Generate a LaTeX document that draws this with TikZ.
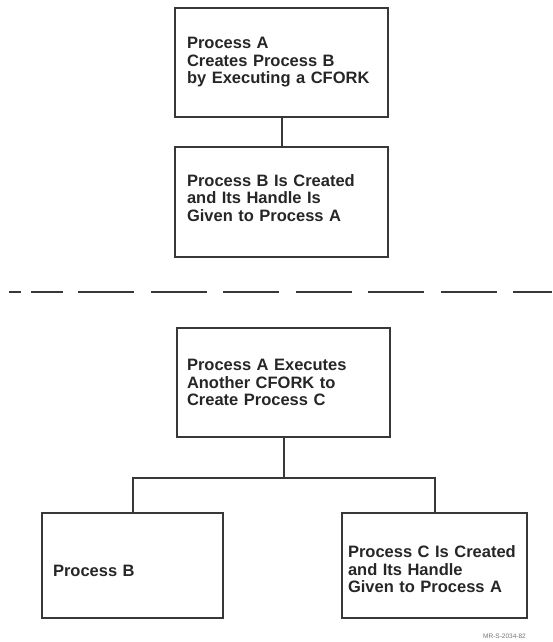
\documentclass[tikz,border=0pt]{standalone}
\usepackage{fontspec}
\setmainfont{Liberation Sans}
\begin{document}
\begin{tikzpicture}[x=1pt,y=-1pt,
  ink/.style={draw=black!78, line width=2pt},
  stepbox/.style={ink, rectangle, align=left, anchor=center,
    font=\bfseries\fontsize{16.5}{17.5}\selectfont, text=black!85,
    inner ysep=0pt},
  wire/.style={ink}
]
\useasboundingbox (0,0) rectangle (552,642);

% upper half: the first CFORK
\node[stepbox, minimum width=213pt, minimum height=109pt, text width=189pt, inner xsep=12pt]
  (a) at (281.5,62.5) {Process A\\Creates Process B\\by Executing a CFORK\\[-13.5pt]~};
\node[stepbox, minimum width=213pt, minimum height=110pt, text width=189pt, inner xsep=12pt]
  (b) at (281.5,202) {Process B Is Created\\and Its Handle Is\\Given to Process A\\[-9pt]~};
\draw[wire] (a.south) -- (b.north);

% separator
\draw[ink] (9,292) -- (21,292);
\draw[ink] (31,292) -- (63,292);
\draw[ink, dash pattern=on 56pt off 16.5pt] (78,292) -- (552,292);

% lower half: the second CFORK
\node[stepbox, minimum width=213pt, minimum height=109pt, text width=193pt, inner xsep=10pt]
  (c) at (283.5,382.5) {Process A Executes\\Another CFORK to\\Create Process C};
\node[stepbox, minimum width=181pt, minimum height=105pt, text width=159pt, inner xsep=11pt]
  (d) at (132.5,565.5) {\\[4pt]Process B};
\node[stepbox, minimum width=185pt, minimum height=105pt, text width=173pt, inner xsep=6pt]
  (e) at (434.5,565.5) {\\[2pt]Process C Is Created\\and Its Handle\\Given to Process A};

\coordinate (j) at (c.south |- 0,478);
\draw[wire] (c.south) -- (j);
\draw[wire] (d.north) |- (e.north |- j) -- (e.north);

\node[font=\fontsize{6.5}{7}\selectfont, text=black!55, anchor=east, inner sep=0pt]
  (tag) at (526,636) {MR-S-2034-82};
\end{tikzpicture}
\end{document}
